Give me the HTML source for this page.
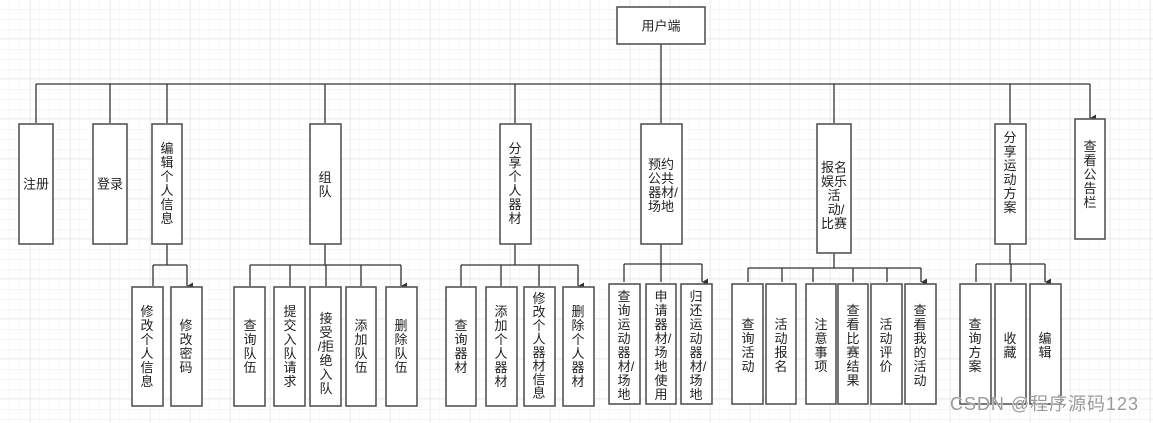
<!DOCTYPE html>
<html><head><meta charset="utf-8"><style>
html,body{margin:0;padding:0;background:#fff}
svg{display:block}
text{font-family:"Liberation Sans","Noto Sans CJK SC",sans-serif;font-size:13px;fill:#222}
.b{fill:#fff;stroke:#555;stroke-width:1.6}
.l{stroke:#333;stroke-width:1.3;fill:none}
</style></head><body>
<svg width="1153" height="423" viewBox="0 0 1153 423" xmlns="http://www.w3.org/2000/svg">
<defs>
<pattern id="g1" width="10" height="10" patternUnits="userSpaceOnUse"><path d="M10 0V10M0 10H10" stroke="#efefef" stroke-width="1" fill="none"/></pattern>
<pattern id="g2" width="40" height="40" patternUnits="userSpaceOnUse" x="30" y="-2"><path d="M0 0V40M0 0H40" stroke="#e0e0e0" stroke-width="1" fill="none"/></pattern>
<marker id="a" markerWidth="8" markerHeight="8" refX="4" refY="7" orient="auto" markerUnits="userSpaceOnUse"><path d="M0.5 1L4 7L7.5 1Z" fill="#333"/></marker>
</defs>
<rect width="1153" height="423" fill="url(#g1)"/>
<rect width="1153" height="423" fill="url(#g2)"/>

<!-- trunk -->
<path class="l" d="M661 44V84M36 84H1090"/>
<path class="l" marker-end="url(#a)" d="M36 84V123M110 84V123M167 84V123M325 84V123M515 84V123M661 84V123M834 84V123M1010 84V123M1090 84V118"/>

<!-- level2 connectors -->
<path class="l" d="M167 244V265M153 265H187"/>
<path class="l" marker-end="url(#a)" d="M153 265V286M187 265V286"/>
<path class="l" d="M325 244V265M250 265H401"/>
<path class="l" marker-end="url(#a)" d="M250 265V286M290 265V286M326 265V286M361 265V286M401 265V286"/>
<path class="l" d="M515 244V265M461 265H578"/>
<path class="l" marker-end="url(#a)" d="M461 265V286M501 265V286M539 265V286M578 265V286"/>
<path class="l" d="M661 244V264M624 264H702"/>
<path class="l" marker-end="url(#a)" d="M624 264V282M661 264V282M702 264V282"/>
<path class="l" d="M834 253V268M748 268H921"/>
<path class="l" marker-end="url(#a)" d="M748 268V282M782 268V282M813 268V282M853 268V282M887 268V282M921 268V282"/>
<path class="l" d="M1010 244V264M976 264H1045"/>
<path class="l" marker-end="url(#a)" d="M976 264V282M1011 264V282M1045 264V282"/>

<!-- root -->
<rect class="b" x="617" y="7" width="88" height="37"/>
<text x="661" y="26" text-anchor="middle" dominant-baseline="central">用户端</text>

<!-- level1 boxes -->
<rect class="b" x="19" y="124" width="34" height="120"/>
<rect class="b" x="93" y="124" width="34" height="120"/>
<rect class="b" x="152" y="124" width="30" height="120"/>
<rect class="b" x="310" y="124" width="31" height="120"/>
<rect class="b" x="500" y="124" width="31" height="120"/>
<rect class="b" x="641" y="124" width="41" height="120"/>
<rect class="b" x="817" y="124" width="34" height="129"/>
<rect class="b" x="995" y="124" width="31" height="120"/>
<rect class="b" x="1075" y="119" width="30" height="120"/>

<g text-anchor="middle" dominant-baseline="central">
<text x="36" y="184">注册</text>
<text x="110" y="184">登录</text>
<text x="167" y="148"><tspan x="167">编</tspan><tspan x="167" dy="14">辑</tspan><tspan x="167" dy="14">个</tspan><tspan x="167" dy="14">人</tspan><tspan x="167" dy="14">信</tspan><tspan x="167" dy="14">息</tspan></text>
<text x="325" y="177"><tspan x="325">组</tspan><tspan x="325" dy="14">队</tspan></text>
<text x="515" y="148"><tspan x="515">分</tspan><tspan x="515" dy="14">享</tspan><tspan x="515" dy="14">个</tspan><tspan x="515" dy="14">人</tspan><tspan x="515" dy="14">器</tspan><tspan x="515" dy="14">材</tspan></text>
<text x="661" y="164"><tspan x="661">预约</tspan><tspan x="661" dy="14">公共</tspan><tspan x="663" dy="14">器材/</tspan><tspan x="661" dy="14">场地</tspan></text>
<text x="834" y="167"><tspan x="834">报名</tspan><tspan x="834" dy="14">娱乐</tspan><tspan x="834" dy="14">活</tspan><tspan x="836" dy="14">动/</tspan><tspan x="834" dy="14">比赛</tspan></text>
<text x="1010" y="137"><tspan x="1010">分</tspan><tspan x="1010" dy="14">享</tspan><tspan x="1010" dy="14">运</tspan><tspan x="1010" dy="14">动</tspan><tspan x="1010" dy="14">方</tspan><tspan x="1010" dy="14">案</tspan></text>
<text x="1090" y="146"><tspan x="1090">查</tspan><tspan x="1090" dy="14">看</tspan><tspan x="1090" dy="14">公</tspan><tspan x="1090" dy="14">告</tspan><tspan x="1090" dy="14">栏</tspan></text>
</g>

<!-- level2 boxes -->
<g>
<rect class="b" x="132" y="287" width="31" height="119"/>
<rect class="b" x="171" y="287" width="31" height="119"/>
<rect class="b" x="234" y="287" width="31" height="119"/>
<rect class="b" x="274" y="287" width="31" height="119"/>
<rect class="b" x="310" y="287" width="31" height="119"/>
<rect class="b" x="346" y="287" width="30" height="119"/>
<rect class="b" x="386" y="287" width="31" height="119"/>
<rect class="b" x="446" y="287" width="30" height="119"/>
<rect class="b" x="486" y="287" width="31" height="119"/>
<rect class="b" x="524" y="287" width="31" height="119"/>
<rect class="b" x="563" y="287" width="31" height="119"/>
<rect class="b" x="609" y="284" width="31" height="120"/>
<rect class="b" x="646" y="284" width="30" height="120"/>
<rect class="b" x="681" y="284" width="31" height="120"/>
<rect class="b" x="732" y="284" width="31" height="120"/>
<rect class="b" x="766" y="284" width="30" height="120"/>
<rect class="b" x="806" y="284" width="30" height="120"/>
<rect class="b" x="838" y="284" width="30" height="120"/>
<rect class="b" x="871" y="284" width="31" height="120"/>
<rect class="b" x="905" y="284" width="31" height="120"/>
<rect class="b" x="960" y="284" width="31" height="120"/>
<rect class="b" x="995" y="284" width="31" height="120"/>
<rect class="b" x="1030" y="284" width="31" height="120"/>
</g>

<g text-anchor="middle" dominant-baseline="central">
<text y="311"><tspan x="147">修</tspan><tspan x="147" dy="14">改</tspan><tspan x="147" dy="14">个</tspan><tspan x="147" dy="14">人</tspan><tspan x="147" dy="14">信</tspan><tspan x="147" dy="14">息</tspan></text>
<text y="325"><tspan x="186">修</tspan><tspan x="186" dy="14">改</tspan><tspan x="186" dy="14">密</tspan><tspan x="186" dy="14">码</tspan></text>
<text y="325"><tspan x="250">查</tspan><tspan x="250" dy="14">询</tspan><tspan x="250" dy="14">队</tspan><tspan x="250" dy="14">伍</tspan></text>
<text y="311"><tspan x="290">提</tspan><tspan x="290" dy="14">交</tspan><tspan x="290" dy="14">入</tspan><tspan x="290" dy="14">队</tspan><tspan x="290" dy="14">请</tspan><tspan x="290" dy="14">求</tspan></text>
<text y="318"><tspan x="326">接</tspan><tspan x="326" dy="14">受</tspan><tspan x="326" dy="14">/拒</tspan><tspan x="326" dy="14">绝</tspan><tspan x="326" dy="14">入</tspan><tspan x="326" dy="14">队</tspan></text>
<text y="325"><tspan x="361">添</tspan><tspan x="361" dy="14">加</tspan><tspan x="361" dy="14">队</tspan><tspan x="361" dy="14">伍</tspan></text>
<text y="325"><tspan x="401">删</tspan><tspan x="401" dy="14">除</tspan><tspan x="401" dy="14">队</tspan><tspan x="401" dy="14">伍</tspan></text>
<text y="325"><tspan x="461">查</tspan><tspan x="461" dy="14">询</tspan><tspan x="461" dy="14">器</tspan><tspan x="461" dy="14">材</tspan></text>
<text y="311"><tspan x="501">添</tspan><tspan x="501" dy="14">加</tspan><tspan x="501" dy="14">个</tspan><tspan x="501" dy="14">人</tspan><tspan x="501" dy="14">器</tspan><tspan x="501" dy="14">材</tspan></text>
<text y="298"><tspan x="539">修</tspan><tspan x="539" dy="13.5">改</tspan><tspan x="539" dy="13.5">个</tspan><tspan x="539" dy="13.5">人</tspan><tspan x="539" dy="13.5">器</tspan><tspan x="539" dy="13.5">材</tspan><tspan x="539" dy="13.5">信</tspan><tspan x="539" dy="13.5">息</tspan></text>
<text y="311"><tspan x="578">删</tspan><tspan x="578" dy="14">除</tspan><tspan x="578" dy="14">个</tspan><tspan x="578" dy="14">人</tspan><tspan x="578" dy="14">器</tspan><tspan x="578" dy="14">材</tspan></text>

<text y="296"><tspan x="624">查</tspan><tspan x="624" dy="14">询</tspan><tspan x="624" dy="14">运</tspan><tspan x="624" dy="14">动</tspan><tspan x="624" dy="14">器</tspan><tspan x="626" dy="14">材/</tspan><tspan x="624" dy="14">场</tspan><tspan x="624" dy="14">地</tspan></text>
<text y="296"><tspan x="661">申</tspan><tspan x="661" dy="14">请</tspan><tspan x="661" dy="14">器</tspan><tspan x="663" dy="14">材/</tspan><tspan x="661" dy="14">场</tspan><tspan x="661" dy="14">地</tspan><tspan x="661" dy="14">使</tspan><tspan x="661" dy="14">用</tspan></text>
<text y="296"><tspan x="696">归</tspan><tspan x="696" dy="14">还</tspan><tspan x="696" dy="14">运</tspan><tspan x="696" dy="14">动</tspan><tspan x="696" dy="14">器</tspan><tspan x="698" dy="14">材/</tspan><tspan x="696" dy="14">场</tspan><tspan x="696" dy="14">地</tspan></text>

<text y="324"><tspan x="748">查</tspan><tspan x="748" dy="14">询</tspan><tspan x="748" dy="14">活</tspan><tspan x="748" dy="14">动</tspan></text>
<text y="324"><tspan x="781">活</tspan><tspan x="781" dy="14">动</tspan><tspan x="781" dy="14">报</tspan><tspan x="781" dy="14">名</tspan></text>
<text y="324"><tspan x="821">注</tspan><tspan x="821" dy="14">意</tspan><tspan x="821" dy="14">事</tspan><tspan x="821" dy="14">项</tspan></text>
<text y="310"><tspan x="853">查</tspan><tspan x="853" dy="14">看</tspan><tspan x="853" dy="14">比</tspan><tspan x="853" dy="14">赛</tspan><tspan x="853" dy="14">结</tspan><tspan x="853" dy="14">果</tspan></text>
<text y="324"><tspan x="886">活</tspan><tspan x="886" dy="14">动</tspan><tspan x="886" dy="14">评</tspan><tspan x="886" dy="14">价</tspan></text>
<text y="310"><tspan x="920">查</tspan><tspan x="920" dy="14">看</tspan><tspan x="920" dy="14">我</tspan><tspan x="920" dy="14">的</tspan><tspan x="920" dy="14">活</tspan><tspan x="920" dy="14">动</tspan></text>

<text y="324"><tspan x="975">查</tspan><tspan x="975" dy="14">询</tspan><tspan x="975" dy="14">方</tspan><tspan x="975" dy="14">案</tspan></text>
<text y="338"><tspan x="1010">收</tspan><tspan x="1010" dy="14">藏</tspan></text>
<text y="338"><tspan x="1045">编</tspan><tspan x="1045" dy="14">辑</tspan></text>
</g>

<text x="950" y="410" style="font-size:18px;fill:#9a9a9a;stroke:#fff;stroke-width:0.6;paint-order:stroke" textLength="188">CSDN @程序源码123</text>
</svg>
</body></html>
